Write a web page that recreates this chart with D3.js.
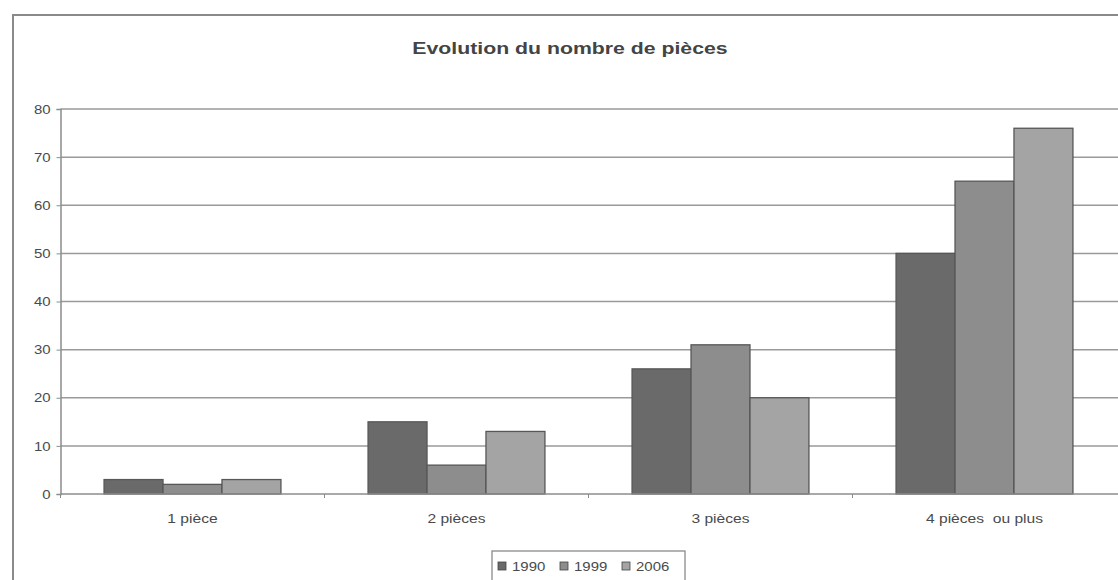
<!DOCTYPE html>
<html>
<head>
<meta charset="utf-8">
<script src="https://cdn.jsdelivr.net/npm/d3@7"></script>
<style>
  html, body { margin: 0; padding: 0; background: #fff; }
  svg { display: block; font-family: "Liberation Sans", Arial, sans-serif; }
</style>
</head>
<body>
<svg id="chart" width="1118" height="580"></svg>
<script>
// Chart data
const categories = ["1 pièce", "2 pièces", "3 pièces", "4 pièces  ou plus"];
const seriesNames = ["1990", "1999", "2006"];
const values1990 = [3, 15, 26, 50];
const values1999 = [2, 6, 31, 65];
const values2006 = [3, 13, 20, 76];
const yTicks = [0, 10, 20, 30, 40, 50, 60, 70, 80];
const titleText = "Evolution du nombre de pièces";

const seriesValues = [values1990, values1999, values2006];
const colors = ["#6a6a6a", "#8d8d8d", "#a4a4a4"];
const textColor = "#4a4a4a";

const W = 1118, H = 580;
const margin = { left: 60.5, right: 1.5 };
const svg = d3.select("#chart");

// Widen glyphs horizontally (the sheet uses a broad sans face)
function widen(sel, factor) {
  sel.each(function () {
    const len = this.getComputedTextLength();
    d3.select(this).attr("textLength", len * factor).attr("lengthAdjust", "spacingAndGlyphs");
  });
}

// Outer frame of the chart sheet
svg.append("rect")
  .attr("x", 13).attr("y", 15)
  .attr("width", W + 20).attr("height", H + 20)
  .attr("fill", "#fff").attr("stroke", "#8a8a8a").attr("stroke-width", 2);

// Title
svg.append("text")
  .attr("x", 570).attr("y", 54)
  .attr("text-anchor", "middle")
  .attr("font-size", 17).attr("font-weight", "bold")
  .attr("fill", "#444")
  .text(titleText)
  .call(widen, 1.25);

const x0 = d3.scaleBand()
  .domain(categories)
  .range([margin.left, W - margin.right])
  .paddingInner(0.33).paddingOuter(0.165);

const x1 = d3.scaleBand()
  .domain(seriesNames)
  .range([0, x0.bandwidth()]);

const y = d3.scaleLinear()
  .domain([0, 80])
  .range([494, 109]);

// Horizontal gridlines
svg.append("g")
  .selectAll("line")
  .data(yTicks.filter(d => d > 0))
  .join("line")
  .attr("x1", margin.left).attr("x2", W)
  .attr("y1", d => y(d)).attr("y2", d => y(d))
  .attr("stroke", "#9a9a9a").attr("stroke-width", 1.5);

// Y axis
const yAxis = svg.append("g")
  .attr("transform", `translate(${margin.left},0)`)
  .call(d3.axisLeft(y).tickValues(yTicks).tickSize(4).tickPadding(6));
yAxis.select(".domain").attr("stroke", "#8c8c8c").attr("stroke-width", 1.5);
yAxis.selectAll(".tick line").attr("stroke", "#8c8c8c");
yAxis.selectAll("text")
  .attr("font-size", 13).attr("fill", textColor)
  .attr("font-family", "Liberation Sans, Arial, sans-serif")
  .call(widen, 1.15);

// Bars
const groups = svg.append("g")
  .selectAll("g")
  .data(categories)
  .join("g")
  .attr("transform", d => `translate(${x0(d)},0)`);

groups.selectAll("rect")
  .data((d, i) => seriesNames.map((s, j) => ({ s, v: seriesValues[j][i], j })))
  .join("rect")
  .attr("x", d => x1(d.s))
  .attr("width", x1.bandwidth())
  .attr("y", d => y(d.v))
  .attr("height", d => y(0) - y(d.v))
  .attr("fill", d => colors[d.j])
  .attr("stroke", "#575757").attr("stroke-width", 1.3);

// X axis with ticks between categories
const xAxisG = svg.append("g").attr("transform", `translate(0,${y(0)})`);
xAxisG.append("line")
  .attr("x1", margin.left).attr("x2", W)
  .attr("stroke", "#8c8c8c").attr("stroke-width", 1.5);
const step = x0.step();
xAxisG.selectAll(".sep")
  .data(d3.range(0, categories.length))
  .join("line")
  .attr("class", "sep")
  .attr("x1", i => margin.left + i * step).attr("x2", i => margin.left + i * step)
  .attr("y1", 0).attr("y2", 4)
  .attr("stroke", "#8c8c8c");
xAxisG.selectAll(".lbl")
  .data(categories)
  .join("text")
  .attr("class", "lbl")
  .attr("x", d => x0(d) + x0.bandwidth() / 2)
  .attr("y", 29)
  .attr("text-anchor", "middle")
  .attr("font-size", 13).attr("fill", textColor)
  .attr("xml:space", "preserve")
  .style("white-space", "pre")
  .text(d => d)
  .call(widen, 1.2);

// Legend
const legend = svg.append("g");
legend.append("rect")
  .attr("x", 492).attr("y", 551)
  .attr("width", 193).attr("height", 40)
  .attr("fill", "#fff").attr("stroke", "#8a8a8a").attr("stroke-width", 1.3);
const legendX = [498, 560, 622];
seriesNames.forEach((s, j) => {
  legend.append("rect")
    .attr("x", legendX[j]).attr("y", 562)
    .attr("width", 8).attr("height", 8)
    .attr("fill", colors[j]).attr("stroke", "#444").attr("stroke-width", 0.8);
  legend.append("text")
    .attr("x", legendX[j] + 14).attr("y", 571)
    .attr("font-size", 13).attr("fill", textColor)
    .text(s)
    .call(widen, 1.15);
});
</script>
</body>
</html>
